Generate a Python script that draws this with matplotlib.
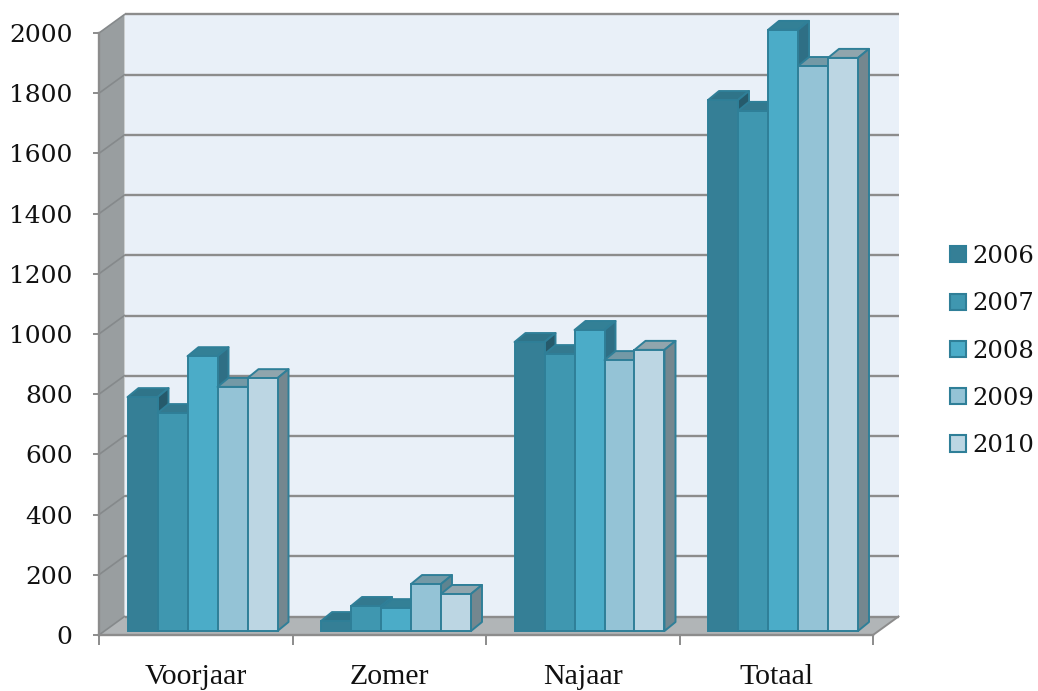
import matplotlib
matplotlib.use('Agg')
import matplotlib.pyplot as plt
from matplotlib.patches import Patch

# ── Data ──────────────────────────────────────────────────────────────────────
CATEGORIES = ['Voorjaar', 'Zomer', 'Najaar', 'Totaal']
YEARS = ['2006', '2007', '2008', '2009', '2010']
VALUES_2006 = [777, 33, 960, 1764]
VALUES_2007 = [724, 83, 920, 1728]
VALUES_2008 = [913, 76, 1000, 1997]
VALUES_2009 = [811, 156, 900, 1877]
VALUES_2010 = [840, 123, 934, 1904]
SERIES = [VALUES_2006, VALUES_2007, VALUES_2008, VALUES_2009, VALUES_2010]
Y_TICKS = list(range(0, 2001, 200))

# ── Style ─────────────────────────────────────────────────────────────────────
FRONT = ['#357f96', '#3f97b0', '#4bacc8', '#94c3d6', '#bcd6e3']
TOP = ['#2f7489', '#33798f', '#338096', '#7399a6', '#90a5ad']
SIDE = ['#265a6b', '#2e6c80', '#2f6f85', '#5f8490', '#74878f']
EDGE = '#2f7f98'
GRID = '#8c8c8c'
W, H = 1038, 691
PX_L, PX_R, PX_0, PX_T = 99, 873, 635, 33
FONT = 'DejaVu Serif'       # digits, closest width
LABEL_FONT = 'Liberation Serif'

fig = plt.figure(figsize=(W / 100, H / 100), dpi=100, facecolor='white')
ax = fig.add_axes([PX_L / W, 1 - PX_0 / H, (PX_R - PX_L) / W, (PX_0 - PX_T) / H])
ax.set_xlim(0, len(CATEGORIES))
ax.set_ylim(0, 2000)
ax.patch.set_visible(False)

# pixel sizes converted to data units
px_x = len(CATEGORIES) / (PX_R - PX_L)
px_y = 2000 / (PX_0 - PX_T)
wall_dx, wall_dy = 25.5 * px_x, 18.5 * px_y
bar_dx, bar_dy = 11 * px_x, 9 * px_y
base = 4 * px_y
bar_w = 30 * px_x
group_off = 28.5 * px_x
n_cat = len(CATEGORIES)

# ── Walls and floor ───────────────────────────────────────────────────────────
ax.fill([wall_dx, n_cat + wall_dx, n_cat + wall_dx, wall_dx],
        [wall_dy, wall_dy, 2000 + wall_dy, 2000 + wall_dy],
        color='#e9f0f8', lw=0, clip_on=False, zorder=1)
ax.fill([0, wall_dx, wall_dx, 0], [0, wall_dy, 2000 + wall_dy, 2000],
        color='#999ea0', lw=0, clip_on=False, zorder=1)
ax.fill([0, wall_dx, n_cat + wall_dx, n_cat], [0, wall_dy, wall_dy, 0],
        color='#b1b5b7', lw=0, clip_on=False, zorder=1)

for t in Y_TICKS:
    ax.plot([wall_dx, n_cat + wall_dx], [t + wall_dy, t + wall_dy], color=GRID,
            lw=1.7, clip_on=False, zorder=2, solid_capstyle='butt')
    ax.plot([0, wall_dx], [t, t + wall_dy], color='#85898b', lw=1.2,
            clip_on=False, zorder=2)
ax.plot([n_cat, n_cat + wall_dx], [0, wall_dy], color=GRID, lw=1.4,
        clip_on=False, zorder=2)

# ── Bars, left to right so each one covers its neighbour's side ───────────────
z = 3
for c in range(n_cat):
    for s, vals in enumerate(SERIES):
        x0 = c + group_off + s * bar_w
        x1 = x0 + bar_w
        top = base + vals[c]
        ax.fill([x0, x0 + bar_dx, x1 + bar_dx, x1], [top, top + bar_dy, top + bar_dy, top],
                facecolor=TOP[s], edgecolor=EDGE, lw=1.4, joinstyle='round',
                clip_on=False, zorder=z)
        ax.fill([x1, x1 + bar_dx, x1 + bar_dx, x1], [base, base + bar_dy, top + bar_dy, top],
                facecolor=SIDE[s], edgecolor=EDGE, lw=1.4, joinstyle='round',
                clip_on=False, zorder=z)
        ax.bar(x0, vals[c], width=bar_w, bottom=base, align='edge',
               facecolor=FRONT[s], edgecolor=EDGE, lw=1.4, clip_on=False, zorder=z + 1)
        z += 2

# ── Axes ──────────────────────────────────────────────────────────────────────
for name in ('top', 'right'):
    ax.spines[name].set_visible(False)
for name in ('left', 'bottom'):
    ax.spines[name].set_color(GRID)
    ax.spines[name].set_linewidth(1.7)
    ax.spines[name].set_zorder(2)

ax.set_yticks(Y_TICKS)
ax.set_yticklabels([str(t) for t in Y_TICKS], fontsize=18, family=FONT, color='#111111')
ax.tick_params(axis='y', length=4, width=1.4, color=GRID, pad=15)

ax.set_xticks(range(n_cat + 1))
ax.set_xticklabels([])
ax.tick_params(axis='x', which='major', length=7.5, width=1.4, color=GRID)
ax.set_xticks([c + 0.5 for c in range(n_cat)], minor=True)
ax.set_xticklabels(CATEGORIES, minor=True, fontsize=21.5, family=LABEL_FONT, color='#111111')
ax.tick_params(axis='x', which='minor', length=0, pad=21)

# ── Legend ────────────────────────────────────────────────────────────────────
handles = [Patch(facecolor=FRONT[i], edgecolor=EDGE, lw=1.5, label=YEARS[i])
           for i in range(len(YEARS))]
fig.legend(handles=handles, loc='center left', bbox_to_anchor=(950 / W, 1 - 351 / H),
           frameon=False, prop={'family': FONT, 'size': 17.5}, labelcolor='#111111',
           handlelength=0.65, handleheight=0.65, handletextpad=0.25,
           labelspacing=1.0, borderpad=0, borderaxespad=0)

fig.savefig('out.png', dpi=100, facecolor='white')
